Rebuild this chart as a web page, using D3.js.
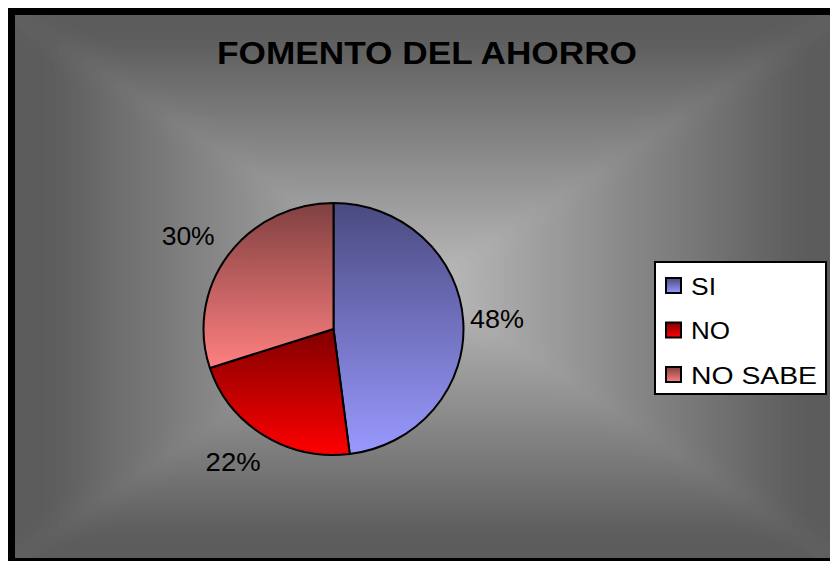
<!DOCTYPE html>
<html>
<head>
<meta charset="utf-8">
<script src="https://cdn.jsdelivr.net/npm/d3@7"></script>
<style>
  html, body { margin: 0; padding: 0; background: #ffffff; overflow: hidden; }
  svg { display: block; }
</style>
</head>
<body>
<svg id="chart" width="830" height="561"></svg>
<script>
// ---- data ----
const title = "FOMENTO DEL AHORRO";
const categories = ["SI", "NO", "NO SABE"];
const values = [48, 22, 30];
const labels = ["48%", "22%", "30%"];
const topColors = ["#4a4a80", "#800000", "#804040"];
const bottomColors = ["#9999ff", "#ff0000", "#ff8080"];

const W = 830, H = 561;
const svg = d3.select("#chart");
const defs = svg.append("defs");

// ---- background: rectangular "from center" gradient ----
const area = { x0: 15, y0: 15, x1: 834, y1: 558 };
const cxB = (area.x0 + area.x1) / 2, cyB = (area.y0 + area.y1) / 2;
const edgeCol = "#5c5c5c", centerCol = "#bcbcbc";
// expanded rectangle (scaled about the center) so blur does not fade the edges
const k = 1.15;
const ex0 = cxB + (area.x0 - cxB) * k, ex1 = cxB + (area.x1 - cxB) * k;
const ey0 = cyB + (area.y0 - cyB) * k, ey1 = cyB + (area.y1 - cyB) * k;

defs.append("clipPath").attr("id", "bgClip").append("rect")
  .attr("x", area.x0).attr("y", area.y0)
  .attr("width", area.x1 - area.x0).attr("height", area.y1 - area.y0);
const blur = defs.append("filter").attr("id", "soft")
  .attr("filterUnits", "userSpaceOnUse")
  .attr("x", ex0).attr("y", ey0).attr("width", ex1 - ex0).attr("height", ey1 - ey0);
blur.append("feGaussianBlur").attr("stdDeviation", 10);

const tris = [
  { id: "bgT", pts: [[ex0, ey0], [ex1, ey0], [cxB, cyB]], g: [cxB, area.y0, cxB, cyB] },
  { id: "bgB", pts: [[ex0, ey1], [ex1, ey1], [cxB, cyB]], g: [cxB, area.y1, cxB, cyB] },
  { id: "bgL", pts: [[ex0, ey0], [ex0, ey1], [cxB, cyB]], g: [area.x0, cyB, cxB, cyB] },
  { id: "bgR", pts: [[ex1, ey0], [ex1, ey1], [cxB, cyB]], g: [area.x1, cyB, cxB, cyB] }
];
tris.forEach(t => {
  const lg = defs.append("linearGradient").attr("id", t.id)
    .attr("gradientUnits", "userSpaceOnUse")
    .attr("x1", t.g[0]).attr("y1", t.g[1]).attr("x2", t.g[2]).attr("y2", t.g[3]);
  lg.append("stop").attr("offset", 0).attr("stop-color", edgeCol);
  lg.append("stop").attr("offset", 0.08).attr("stop-color", edgeCol);
  lg.append("stop").attr("offset", 1).attr("stop-color", centerCol);
});
const bgOuter = svg.append("g").attr("clip-path", "url(#bgClip)");
const bgInner = bgOuter.append("g").attr("filter", "url(#soft)");
bgInner.append("rect").attr("x", ex0).attr("y", ey0)
  .attr("width", ex1 - ex0).attr("height", ey1 - ey0).attr("fill", "#8a8a8a");
tris.forEach(t => {
  bgInner.append("polygon")
    .attr("points", t.pts.map(p => p.join(",")).join(" "))
    .attr("fill", `url(#${t.id})`);
});
// faint light ridges along the diagonals
[[ex0, ey0], [ex1, ey0], [ex0, ey1], [ex1, ey1]].forEach(c => {
  bgInner.append("line")
    .attr("x1", c[0]).attr("y1", c[1]).attr("x2", cxB).attr("y2", cyB)
    .attr("stroke", "#ffffff").attr("stroke-opacity", 0.04)
    .attr("stroke-width", 14);
});

// frame (top, left, bottom visible)
svg.append("path")
  .attr("d", `M${W + 10},11.5 H11.5 V561.5 H${W + 10}`)
  .attr("fill", "none").attr("stroke", "#000").attr("stroke-width", 7);

// ---- slice gradients ----
categories.forEach((c, i) => {
  const lg = defs.append("linearGradient").attr("id", "sg" + i)
    .attr("x1", 0).attr("y1", 0).attr("x2", 0).attr("y2", 1);
  lg.append("stop").attr("offset", 0).attr("stop-color", topColors[i]);
  lg.append("stop").attr("offset", 1).attr("stop-color", bottomColors[i]);
});

// ---- title ----
svg.append("text")
  .attr("x", 427).attr("y", 64)
  .attr("text-anchor", "middle")
  .attr("font-family", "Liberation Sans, Arial, sans-serif")
  .attr("font-weight", "bold").attr("font-size", 31)
  .attr("textLength", 420).attr("lengthAdjust", "spacingAndGlyphs")
  .attr("fill", "#000")
  .text(title);

// ---- pie ----
const cx = 333.5, cy = 329, rx = 130, ry = 126;
const pie = d3.pie().sort(null).value(d => d)(values);
const arc = d3.arc().innerRadius(0).outerRadius(rx);

const g = svg.append("g")
  .attr("transform", `translate(${cx},${cy}) scale(1,${ry / rx})`);
g.selectAll("path").data(pie).enter().append("path")
  .attr("d", arc)
  .attr("fill", (d, i) => `url(#sg${i})`)
  .attr("stroke", "#000").attr("stroke-width", 2)
  .attr("stroke-linejoin", "round")
  .attr("vector-effect", "non-scaling-stroke");

// labels
const labelW = [54, 55, 53];
pie.forEach((d, i) => {
  const a = (d.startAngle + d.endAngle) / 2;
  const lx = cx + Math.sin(a) * (162 + 30 * Math.abs(Math.cos(a)));
  const ly = cy - Math.cos(a) * 158;
  svg.append("text")
    .attr("x", lx).attr("y", ly + 9)
    .attr("text-anchor", "middle")
    .attr("font-family", "Liberation Sans, Arial, sans-serif")
    .attr("font-size", 25)
    .attr("textLength", labelW[i]).attr("lengthAdjust", "spacingAndGlyphs")
    .attr("fill", "#000")
    .text(labels[i]);
});

// ---- legend ----
const leg = svg.append("g");
leg.append("rect")
  .attr("x", 655).attr("y", 262).attr("width", 171).attr("height", 132)
  .attr("fill", "#fff").attr("stroke", "#000").attr("stroke-width", 2);
const legY = d3.scalePoint().domain(categories).range([286, 375]);
const legTextW = [25, 39, 126];
categories.forEach((c, i) => {
  const y = legY(c);
  leg.append("rect")
    .attr("x", 666).attr("y", y - 8).attr("width", 15).attr("height", 15)
    .attr("fill", `url(#sg${i})`).attr("stroke", "#000").attr("stroke-width", 2);
  leg.append("text")
    .attr("x", 691).attr("y", y + 8.5)
    .attr("font-family", "Liberation Sans, Arial, sans-serif")
    .attr("font-size", 23)
    .attr("textLength", legTextW[i]).attr("lengthAdjust", "spacingAndGlyphs")
    .attr("fill", "#000")
    .text(c);
});
</script>
</body>
</html>
